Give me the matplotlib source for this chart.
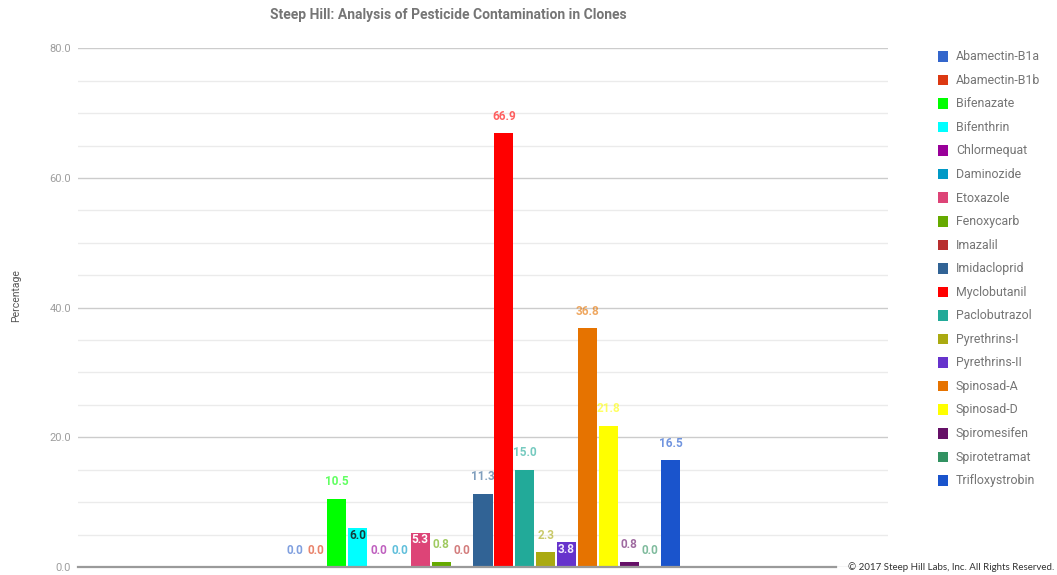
import matplotlib
matplotlib.use("Agg")
import matplotlib.pyplot as plt
import numpy as np
from matplotlib.patches import Rectangle

# Pesticide contamination found in clone samples (percent of samples)
pesticides = [
    "Abamectin-B1a", "Abamectin-B1b", "Bifenazate", "Bifenthrin", "Chlormequat",
    "Daminozide", "Etoxazole", "Fenoxycarb", "Imazalil", "Imidacloprid",
    "Myclobutanil", "Paclobutrazol", "Pyrethrins-I", "Pyrethrins-II", "Spinosad-A",
    "Spinosad-D", "Spiromesifen", "Spirotetramat", "Trifloxystrobin",
]
percentages = [0.0, 0.0, 10.5, 6.0, 0.0, 0.0, 5.3, 0.8, 0.0, 11.3,
               66.9, 15.0, 2.3, 3.8, 36.8, 21.8, 0.8, 0.0, 16.5]
bar_colors = [
    "#3366cc", "#dc3912", "#00ff00", "#00ffff", "#990099",
    "#0099c6", "#dd4477", "#66aa00", "#b82e2e", "#316395",
    "#ff0000", "#22aa99", "#aaaa11", "#6633cc", "#e67300",
    "#ffff00", "#651067", "#329262", "#1a54cc",
]
# value labels drawn inside the bar top instead of above it
inside_label_colors = {"Bifenthrin": "#163c3c", "Etoxazole": "#ffffff",
                       "Pyrethrins-II": "#f0eaff"}
y_ticks = [0, 20, 40, 60, 80]

FONT = ["Roboto", "DejaVu Sans"]
plt.rcParams["font.family"] = FONT

W, H = 1057, 575
fig = plt.figure(figsize=(W / 100, H / 100), dpi=100)
fig.patch.set_facecolor("white")


def fx(px):
    return px / W


def fy(py):
    return 1 - py / H


left, right, top, bottom = 78, 888, 48.3, 567
ax = fig.add_axes([fx(left), fy(bottom), fx(right) - fx(left), fy(top) - fy(bottom)])

x = np.arange(len(pesticides))
bars = ax.bar(x, percentages, width=0.92, color=bar_colors, zorder=2)

ax.set_xlim(9 - 19.4, 9 + 19.4)
ax.set_ylim(0, 80)
ax.set_xticks([])
ax.set_yticks(y_ticks)
ax.set_yticklabels([f"{t:.1f}" for t in y_ticks])
ax.set_yticks([v for v in range(0, 81, 5) if v not in y_ticks], minor=True)
ax.tick_params(axis="y", which="both", length=0, pad=5, labelsize=8,
               labelcolor="#9e9e9e")
ax.grid(axis="y", which="major", color="#cccccc", lw=1, zorder=0)
ax.grid(axis="y", which="minor", color="#ebebeb", lw=1, zorder=0)
for s in ax.spines.values():
    s.set_visible(False)
ax.axhline(0, xmin=0, xmax=(836 - left) / (right - left), color="#9a9a9a",
           lw=1.6, zorder=3, clip_on=False)

# value labels
px_to_pt = 72 / 100
for name, val, col, xi in zip(pesticides, percentages, bar_colors, x):
    if name in inside_label_colors:
        ax.annotate(f"{val:.1f}", (xi, val), xytext=(0, -7 * px_to_pt),
                    textcoords="offset points", ha="center", va="center",
                    fontsize=8.5, fontweight="bold",
                    color=inside_label_colors[name], zorder=4)
    else:
        ax.annotate(f"{val:.1f}", (xi, val), xytext=(0, 17 * px_to_pt),
                    textcoords="offset points", ha="center", va="center",
                    fontsize=8.5, fontweight="bold", color=col, alpha=0.62,
                    zorder=4)

# title and axis title
fig.text(fx(448.5), fy(15), "Steep Hill: Analysis of Pesticide Contamination in Clones",
         ha="center", va="center", fontsize=10, fontweight="bold", color="#757575")
fig.text(fx(16.5), fy(296), "Percentage", rotation=90, ha="center", va="center",
         fontsize=7.5, color="#555555")

# legend
for i, (name, col) in enumerate(zip(pesticides, bar_colors)):
    yc = 56.7 + i * 23.55
    fig.patches.append(Rectangle((fx(937.5), fy(yc + 5)), 10.5 / W, 10.5 / H,
                                 transform=fig.transFigure, facecolor=col,
                                 edgecolor="none"))
    fig.text(fx(956), fy(yc), name, ha="left", va="center", fontsize=8.9,
             color="#757575")

fig.text(fx(848), fy(567), "\u00a9 2017 Steep Hill Labs, Inc. All Rights Reserved.",
         ha="left", va="center", fontsize=7.05, color="#333333",
         family=["Lato", "DejaVu Sans"])

fig.savefig("out.png", dpi=100, facecolor="white")
